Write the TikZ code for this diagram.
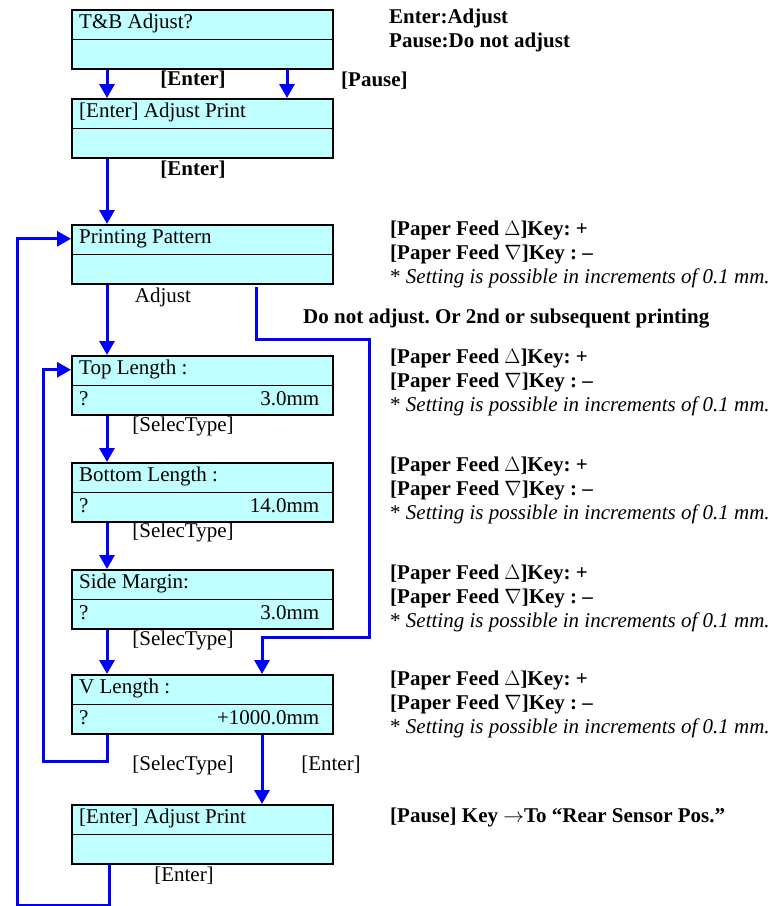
\documentclass[tikz,border=0pt]{standalone}
\usepackage{fontspec}
\setmainfont{Liberation Serif}
\usetikzlibrary{calc,positioning,arrows.meta}
\definecolor{lcdcyan}{HTML}{C0FFFF}
\definecolor{keyblue}{HTML}{0000FF}
\frenchspacing
\tikzset{
  lcd/.style={draw=black, line width=1.5pt, fill=lcdcyan, minimum width=261pt,
    minimum height=59pt, inner sep=0pt, anchor=north west},
  lcdtext/.style={inner sep=0pt, anchor=west, execute at begin node=\strut},
  flow/.style={draw=keyblue, line width=3pt, -{Triangle[width=15pt,length=14pt]}},
  keylabel/.style={inner sep=0pt, font=\fontsize{21}{24}\selectfont\bfseries},
  steplabel/.style={inner sep=0pt},
  note/.style={inner sep=0pt, anchor=west, align=left},
}
% one LCD panel: name, top edge, upper line, lower line left, lower line right
\newcommand{\lcdpanel}[5]{%
  \node[lcd] (#1) at (71,#2) {};
  \draw[line width=0.8pt] (#1.west) -- (#1.east);
  \node[lcdtext] (#1-a) at ([xshift=8pt,yshift=-14.75pt]#1.north west) {#3};
  \node[lcdtext] (#1-b) at ([xshift=8pt,yshift=14.75pt]#1.south west) {#4};
  \node[lcdtext, anchor=east] (#1-c) at ([xshift=-14pt,yshift=14.75pt]#1.south east) {#5};
}
\newcommand{\feednote}{%
  \textbf{[Paper Feed $\Delta$]Key: +}\\
  \textbf{[Paper Feed $\nabla$]Key : --}\\
  * \textit{Setting is possible in increments of 0.1 mm.}}

\begin{document}
\begin{tikzpicture}[x=1pt, y=-1pt, font=\fontsize{21}{24}\selectfont]
  \useasboundingbox (0,0) rectangle (784,906);

  % panels
  \lcdpanel{tb}{9}{T\&B Adjust?}{}{}
  \lcdpanel{pr1}{98}{[Enter] Adjust Print}{}{}
  \lcdpanel{pat}{224}{Printing Pattern}{}{}
  \lcdpanel{top}{355}{Top Length :}{?}{3.0mm}
  \lcdpanel{bot}{462}{Bottom Length :}{?}{14.0mm}
  \lcdpanel{side}{569}{Side Margin:}{?}{3.0mm}
  \lcdpanel{vlen}{674}{V Length :}{?}{+1000.0mm}
  \lcdpanel{pr2}{804}{[Enter] Adjust Print}{}{}

  % main flow
  \foreach \a/\b in {tb/pr1, pr1/pat, pat/top, top/bot, bot/side, side/vlen}
    \draw[flow] ([xshift=36pt]\a.south west) -- ([xshift=36pt]\b.north west);
  \draw[flow] ([xshift=216pt]tb.south west) -- ([xshift=216pt]pr1.north west);
  \draw[flow] ([xshift=191pt]vlen.south west) -- ([xshift=191pt]pr2.north west);

  % skip and loops
  \draw[flow] ([xshift=185pt,yshift=-2pt]pat.south west) -- ++(0,53) -- ++(113,0)
    -- ++(0,298) -| ([xshift=191pt]vlen.north west);
  \draw[flow] ([xshift=36pt]vlen.south west) -- ++(0,27) -- ++(-64,0)
    |- ([yshift=-14.75pt]top.north west);
  \draw[flow] ([xshift=38pt]pr2.south west) -- ++(0,41) -- ++(-92,0)
    |- ([yshift=-14.75pt]pat.north west);

  % key labels
  \node[keylabel] (k1) at (193,80) {[Enter]};
  \node[keylabel, anchor=west] (k2) at (341,81) {[Pause]};
  \node[keylabel] (k3) at (193,170) {[Enter]};
  \node[steplabel] (k4) at (163,297) {Adjust};
  \node[keylabel, anchor=west] (k5) at (303,319) {Do not adjust. Or 2nd or subsequent printing};
  \foreach \y [count=\i] in {426,532,640,765}
    \node[steplabel] (sel\i) at (183,\y) {[SelecType]};
  \node[steplabel] (k6) at (331,765) {[Enter]};
  \node[steplabel] (k7) at (184,876) {[Enter]};

  % notes on the right
  \node[note, font=\fontsize{21}{24}\selectfont\bfseries] (n0) at (389,30)
    {Enter:Adjust\\Pause:Do not adjust};
  \foreach \y [count=\i] in {254,382,490,598,704}
    \node[note] (n\i) at (390,\y) {\feednote};
  \node[note, font=\fontsize{21}{24}\selectfont\bfseries] (n6) at (390,817)
    {[Pause] Key $\rightarrow$To “Rear Sensor Pos.”};
\end{tikzpicture}
\end{document}
